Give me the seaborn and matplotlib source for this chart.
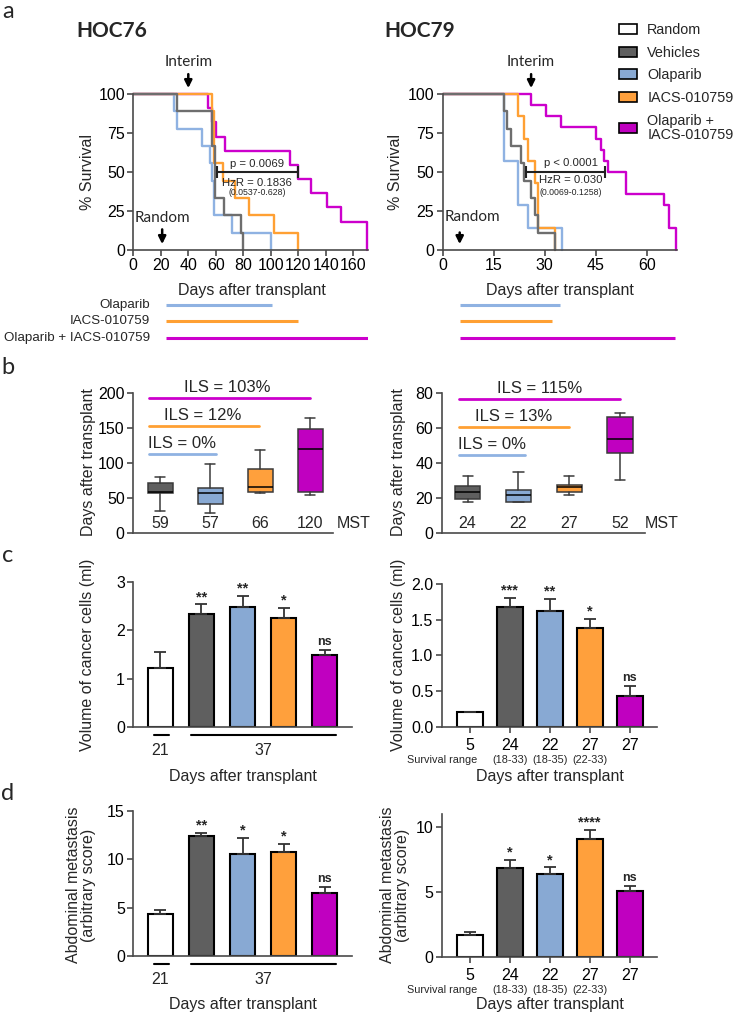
import matplotlib
matplotlib.use("Agg")
import matplotlib.pyplot as plt
from matplotlib.patches import Patch
import seaborn as sns

sns.set_style("ticks")
plt.rcParams["font.family"] = ["Liberation Sans", "DejaVu Sans"]
plt.rcParams["axes.edgecolor"] = "#4a4a4a"
plt.rcParams["xtick.color"] = "#4a4a4a"
plt.rcParams["ytick.color"] = "#4a4a4a"
plt.rcParams["xtick.labelcolor"] = "black"
plt.rcParams["ytick.labelcolor"] = "black"

W, H = 733, 1015
CAL = ["Lato", "DejaVu Sans"]

# ---------------- data ----------------
group_names = ["Random", "Vehicles", "Olaparib", "IACS", "Combo"]
legend_labels = ["Random", "Vehicles", "Olaparib", "IACS-010759", "Olaparib +\nIACS-010759"]
fill_colors = ["#ffffff", "#5f5f5f", "#88a9d3", "#ffa03c", "#c000c0"]
km_colors = ["#6e6e6e", "#8fb2e2", "#ffa033", "#cc00cc"]  # vehicles, olaparib, iacs, combo

# Kaplan-Meier steps (day, % survival)
hoc76_vehicle_t = [0, 32, 57, 59.5, 66, 78, 80]
hoc76_vehicle_s = [100, 88.9, 66.7, 33.3, 22.2, 11.1, 0]
hoc76_olaparib_t = [0, 29.5, 32, 50, 56, 57, 58.5, 72, 100]
hoc76_olaparib_s = [100, 88.9, 77.8, 66.7, 55.6, 44.4, 22.2, 11.1, 0]
hoc76_iacs_t = [0, 57.5, 59, 65, 74, 84, 102.5, 120]
hoc76_iacs_s = [100, 88.9, 55.6, 44.4, 33.3, 22.2, 11.1, 0]
hoc76_combo_t = [0, 54, 57, 60, 67, 114, 120, 129, 141, 151, 170]
hoc76_combo_s = [100, 90.9, 81.8, 72.7, 63.6, 54.5, 45.5, 36.4, 27.3, 18.2, 0]

hoc79_vehicle_t = [0, 18, 19, 20, 23, 24, 26, 27, 28, 33]
hoc79_vehicle_s = [100, 88.9, 77.8, 66.7, 55.6, 44.4, 33.3, 22.2, 11.1, 0]
hoc79_olaparib_t = [0, 18, 22, 25, 35]
hoc79_olaparib_s = [100, 57.1, 28.6, 14.3, 0]
hoc79_iacs_t = [0, 22, 24, 25, 27, 28, 33]
hoc79_iacs_s = [100, 85.7, 71.4, 57.1, 42.9, 14.3, 0]
hoc79_combo_t = [0, 26, 30.5, 34.7, 45, 46.5, 47.5, 48.5, 54, 65, 66.5, 68.5]
hoc79_combo_s = [100, 92.9, 85.7, 78.6, 71.4, 64.3, 57.1, 50, 35.7, 28.6, 14.3, 0]

# treatment periods
treat_labels = ["Olaparib", "IACS-010759", "Olaparib + IACS-010759"]
hoc76_treat_start = [24, 24, 24]
hoc76_treat_end = [101, 120, 171]
hoc79_treat_start = [5, 5, 5]
hoc79_treat_end = [34.5, 32, 68.3]

# box plots (vehicles, olaparib, iacs, combo)
hoc76_med = [59, 57.6, 66, 120]
hoc76_q1 = [57.5, 41.4, 59.5, 59.5]
hoc76_q3 = [71.4, 64.8, 92, 149]
hoc76_lo = [32, 29.5, 57, 54]
hoc76_hi = [80, 98.6, 119, 164]
hoc76_mst = ["59", "57", "66", "120"]
hoc76_ils = ["ILS = 0%", "ILS = 12%", "ILS = 103%"]
hoc76_ils_y = [113, 153.7, 193]
hoc76_ils_end = [2.12, 2.98, 4.0]

hoc79_med = [23.8, 21.9, 26.7, 53.7]
hoc79_q1 = [19.4, 18.1, 23.8, 45.7]
hoc79_q3 = [27, 24.8, 27.6, 66.7]
hoc79_lo = [17.7, 18.1, 21.9, 30.5]
hoc79_hi = [33, 34.9, 33, 68.6]
hoc79_mst = ["24", "22", "27", "52"]
hoc79_ils = ["ILS = 0%", "ILS = 13%", "ILS = 115%"]
hoc79_ils_y = [44.9, 60.9, 76.9]
hoc79_ils_end = [2.13, 3.0, 3.99]

# volume of cancer cells (ml)
vol76 = [1.21, 2.34, 2.49, 2.25, 1.49]
vol76_sem = [0.35, 0.20, 0.23, 0.21, 0.10]
vol76_sig = ["", "**", "**", "*", "ns"]
vol79 = [0.20, 1.68, 1.62, 1.38, 0.435]
vol79_sem = [0.01, 0.13, 0.17, 0.13, 0.14]
vol79_sig = ["", "***", "**", "*", "ns"]

# abdominal metastasis score
met76 = [4.3, 12.4, 10.5, 10.7, 6.53]
met76_sem = [0.44, 0.30, 1.70, 0.86, 0.62]
met76_sig = ["", "**", "*", "*", "ns"]
met79 = [1.67, 6.8, 6.34, 9.1, 5.05]
met79_sem = [0.25, 0.69, 0.54, 0.70, 0.41]
met79_sig = ["", "*", "*", "****", "ns"]

hoc79_days = ["5", "24", "22", "27", "27"]
hoc79_range = ["", "(18-33)", "(18-35)", "(22-33)", ""]

TICK = 11.5
LABEL = 11.5

fig = plt.figure(figsize=(W / 100, H / 100), dpi=100)


def add_ax(x0, y0, x1, y1):
    return fig.add_axes([x0 / W, 1 - y1 / H, (x1 - x0) / W, (y1 - y0) / H])


def ftext(x, y, s, **kw):
    return fig.text(x / W, 1 - y / H, s, **kw)


def style(ax):
    sns.despine(ax=ax)
    for sp in ax.spines.values():
        sp.set_linewidth(1.2)
    ax.tick_params(length=4, width=1.2, labelsize=TICK, pad=2)


# ---------------- panel a: survival ----------------
def km_panel(ax, curves, xmax, xticks):
    for t, s, c in curves:
        sns.lineplot(x=t, y=s, ax=ax, color=c, lw=1.7, drawstyle="steps-post",
                     estimator=None, sort=False)
    for ln in ax.lines:
        ln.set_clip_on(False)
    ax.set_xlim(0, xmax)
    ax.set_ylim(0, 100)
    ax.set_xticks(xticks)
    ax.set_yticks([0, 25, 50, 75, 100])
    ax.set_xlabel("")
    ax.set_ylabel("")
    style(ax)


def arrow(ax, x, y0, y1, label, tx, ty):
    ax.annotate("", xy=(x, y1), xytext=(x, y0), annotation_clip=False,
                arrowprops=dict(arrowstyle="-|>", color="black", lw=1.8, mutation_scale=11))
    ax.text(tx, ty, label, ha="center", va="center", family=CAL, fontsize=11)


def pbar(ax, x0, x1, xc, ptxt, hz, ci, ys):
    ax.plot([x0, x1], [50, 50], color="#222222", lw=1.5, clip_on=False)
    ax.plot([x0, x1], [50, 50], ls="none", marker="|", ms=8, mew=1.5, color="#222222")
    ax.text(xc, ys[0], ptxt, ha="center", va="center", fontsize=8.2)
    ax.text(xc, ys[1], hz, ha="center", va="center", fontsize=8.2)
    ax.text(xc, ys[2], ci, ha="center", va="center", fontsize=6.3)


ax76 = add_ax(133.3, 94, 368.4, 250)
km_panel(ax76, [(hoc76_combo_t, hoc76_combo_s, km_colors[3]),
                (hoc76_olaparib_t, hoc76_olaparib_s, km_colors[1]),
                (hoc76_iacs_t, hoc76_iacs_s, km_colors[2]),
                (hoc76_vehicle_t, hoc76_vehicle_s, km_colors[0])],
         171, range(0, 161, 20))
arrow(ax76, 40, 114.5, 102, "Interim", 40, 120.5)
arrow(ax76, 21, 15, 2, "Random", 21.3, 20.5)
pbar(ax76, 60.9, 119.6, 90, "p = 0.0069", "HzR = 0.1836", "(0.0537-0.628)", [55.1, 43.1, 36.7])

ax79 = add_ax(442.7, 94, 677.3, 250)
km_panel(ax79, [(hoc79_combo_t, hoc79_combo_s, km_colors[3]),
                (hoc79_olaparib_t, hoc79_olaparib_s, km_colors[1]),
                (hoc79_iacs_t, hoc79_iacs_s, km_colors[2]),
                (hoc79_vehicle_t, hoc79_vehicle_s, km_colors[0])],
         69, range(0, 61, 15))
arrow(ax79, 26, 114.5, 102, "Interim", 26, 120.5)
arrow(ax79, 5, 13, 2, "Random", 8.7, 21)
pbar(ax79, 24.5, 47.7, 37.6, "p < 0.0001", "HzR = 0.030", "(0.0069-0.1258)", [55.6, 44.9, 37])

for x, name in [(112, "HOC76"), (420, "HOC79")]:
    ftext(x, 31, name, ha="center", va="center", family=CAL, fontsize=15, weight="bold")
for x in (88, 395):
    ftext(x, 172, "% Survival", rotation=90, ha="center", va="center", fontsize=LABEL)
for x in (251.7, 560):
    ftext(x, 291, "Days after transplant", ha="center", va="center", fontsize=LABEL)

# treatment bars
treat_colors = km_colors[1:]
for (x0, x1, xmax, starts, ends, show) in [(133.3, 368.4, 171, hoc76_treat_start, hoc76_treat_end, True),
                                           (442.7, 677.3, 69, hoc79_treat_start, hoc79_treat_end, False)]:
    axt = add_ax(x0, 296.9, x1, 345.8)
    axt.set_xlim(0, xmax)
    axt.set_ylim(2.5, -0.5)
    axt.axis("off")
    axt.hlines(range(3), starts, ends, colors=treat_colors, lw=2.2)
    if show:
        for i, lab in enumerate(treat_labels):
            axt.text(12, i, lab, ha="right", va="center", fontsize=9.6, clip_on=False)

# legend
handles = [Patch(facecolor=c, edgecolor="black", lw=1.2) for c in fill_colors]
leg = fig.legend(handles, legend_labels, loc="upper left", bbox_to_anchor=(619 / W, 1 - 23 / H),
                 frameon=False, fontsize=10.4, handlelength=1.25, handleheight=0.7,
                 handletextpad=0.7, labelspacing=0.6, borderpad=0, borderaxespad=0)
for t in leg.get_texts():
    t.set_linespacing(1.0)


# ---------------- panel b: box plots ----------------
def box_panel(ax, med, q1, q3, lo, hi, mst, ils, ils_y, ils_end, ils_start, ils_tx, ils_ty,
              xlim, ylim, yticks, mst_y, mst_x):
    stats = [dict(med=m, q1=a, q3=b, whislo=l, whishi=h, fliers=[])
             for m, a, b, l, h in zip(med, q1, q3, lo, hi)]
    bp = ax.bxp(stats, positions=[1, 2, 3, 4], widths=0.5, patch_artist=True, showfliers=False,
                capwidths=0.2,
                boxprops=dict(edgecolor="#3a3a3a", lw=1.1),
                medianprops=dict(color="black", lw=1.1),
                whiskerprops=dict(color="#3a3a3a", lw=1.1),
                capprops=dict(color="#3a3a3a", lw=1.1))
    for patch, c in zip(bp["boxes"], fill_colors[1:]):
        patch.set_facecolor(c)
    ax.set_xlim(*xlim)
    ax.set_ylim(*ylim)
    ax.set_yticks(yticks)
    ax.set_xticks([])
    style(ax)
    for i, m in enumerate(mst):
        ax.text(i + 1, mst_y, m, ha="center", va="center", fontsize=TICK)
    ax.text(mst_x, mst_y, "MST", ha="left", va="center", fontsize=TICK, clip_on=False)
    for lab, y, e, c, tx, ty in zip(ils, ils_y, ils_end, treat_colors, ils_tx, ils_ty):
        ax.plot([ils_start, e], [y, y], color=c, lw=2, clip_on=False)
        ax.text(tx, ty, lab, ha="center", va="center", fontsize=12, clip_on=False)


axb1 = add_ax(133, 393.3, 333, 533.3)
box_panel(axb1, hoc76_med, hoc76_q1, hoc76_q3, hoc76_lo, hoc76_hi, hoc76_mst,
          hoc76_ils, hoc76_ils_y, hoc76_ils_end, 0.78, [1.44, 1.86, 2.35], [129, 167.6, 207.6],
          (0.46, 4.46), (0, 200), [0, 50, 100, 150, 200], 14.3, 4.53)
axb2 = add_ax(441.7, 393.3, 645, 533.3)
box_panel(axb2, hoc79_med, hoc79_q1, hoc79_q3, hoc79_lo, hoc79_hi, hoc79_mst,
          hoc79_ils, hoc79_ils_y, hoc79_ils_end, 0.84, [1.48, 1.91, 2.41], [51, 67, 82.9],
          (0.49, 4.49), (0, 80), [0, 20, 40, 60, 80], 5.7, 4.49)
for x in (88, 399):
    ftext(x, 462, "Days after transplant", rotation=90, ha="center", va="center", fontsize=LABEL)


# ---------------- panels c and d: bars ----------------
def bar_panel(ax, vals, sems, sig, width, xlim, ylim, yticks):
    sns.barplot(x=group_names, y=vals, hue=group_names, palette=fill_colors, legend=False,
                saturation=1, width=width, edgecolor="black", linewidth=1.5, ax=ax)
    ax.errorbar(range(5), vals, yerr=[[0] * 5, sems], fmt="none", ecolor="#333333",
                elinewidth=1.3, capsize=4, capthick=1.3)
    for i, (v, s, t) in enumerate(zip(vals, sems, sig)):
        if t:
            big = t != "ns"
            ax.annotate(t, (i, v + s), xytext=(0, 2.5 if big else 3.5), textcoords="offset points",
                        ha="center", va="baseline", fontsize=10.5 if big else 9, weight="bold")
    ax.set_xlim(*xlim)
    ax.set_ylim(*ylim)
    ax.set_yticks(yticks)
    ax.set_xlabel("")
    ax.set_ylabel("")
    style(ax)


def left_days(ax, top, bot):
    f = lambda y: (bot - y) / (bot - top)
    tr = ax.get_xaxis_transform()
    ax.set_xticks([])
    ax.plot([-0.16, 0.21], [f(bot + 8.3)] * 2, color="black", lw=1.5, transform=tr, clip_on=False)
    ax.plot([0.74, 4.28], [f(bot + 8.3)] * 2, color="black", lw=1.5, transform=tr, clip_on=False)
    ax.text(0, f(bot + 24), "21", ha="center", va="center", fontsize=TICK, transform=tr)
    ax.text(2.5, f(bot + 24), "37", ha="center", va="center", fontsize=TICK, transform=tr)


def right_days(ax, top, bot):
    f = lambda y: (bot - y) / (bot - top)
    tr = ax.get_xaxis_transform()
    ax.set_xticks(range(5))
    ax.set_xticklabels(hoc79_days, fontsize=TICK)
    ax.tick_params(axis="x", pad=4)
    for i, r in enumerate(hoc79_range):
        if r:
            ax.text(i, f(bot + 33.3), r, ha="center", va="center", fontsize=7.8, transform=tr)
    ax.text(-0.68, f(bot + 33.3), "Survival range", ha="center", va="center", fontsize=7.8,
            transform=tr)


axc1 = add_ax(133.3, 582.3, 351.7, 726.7)
bar_panel(axc1, vol76, vol76_sem, vol76_sig, 0.62, (-0.66, 4.66), (0, 3), [0, 1, 2, 3])
left_days(axc1, 582.3, 726.7)
axc2 = add_ax(441.7, 584, 656.7, 726.7)
bar_panel(axc2, vol79, vol79_sem, vol79_sig, 0.65, (-0.7, 4.675), (0, 2), [0, 0.5, 1, 1.5, 2])
axc2.set_yticklabels(["0.0", "0.5", "1.0", "1.5", "2.0"])
right_days(axc2, 584, 726.7)
for x in (87.5, 398):
    ftext(x, 655, "Volume of cancer cells (ml)", rotation=90, ha="center", va="center", fontsize=LABEL)
for x in (242.5, 550):
    ftext(x, 776.7, "Days after transplant", ha="center", va="center", fontsize=LABEL)

axd1 = add_ax(133.3, 810.7, 351.7, 956)
bar_panel(axd1, met76, met76_sem, met76_sig, 0.62, (-0.66, 4.66), (0, 15), [0, 5, 10, 15])
left_days(axd1, 810.7, 956)
axd2 = add_ax(441.7, 814, 656.7, 956.7)
bar_panel(axd2, met79, met79_sem, met79_sig, 0.65, (-0.7, 4.675), (0, 11), [0, 5, 10])
right_days(axd2, 814, 956.7)
for x in (81, 395):
    ftext(x, 885, "Abdominal metastasis\n(arbitrary score)", rotation=90, ha="center", va="center",
          fontsize=LABEL, linespacing=1.05)
for x in (243.3, 550):
    ftext(x, 1005, "Days after transplant", ha="center", va="center", fontsize=LABEL)

# panel letters
for lab, y in [("a", 12), ("b", 367), ("c", 555), ("d", 793)]:
    ftext(8, y, lab, ha="center", va="center", family=CAL, fontsize=17)

fig.savefig("out.png", dpi=100)
